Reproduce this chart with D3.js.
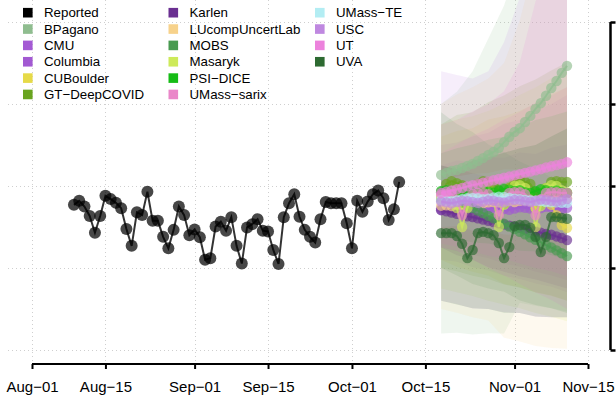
<!DOCTYPE html>
<meta charset="utf-8">

<!-- Load d3.js -->
<script src="https://d3js.org/d3.v7.min.js"></script>
<style>
  body { margin: 0; background: #fff; }
</style>

<div id="my_dataviz"></div>

<script>

// ---- data ----
var reportedStart = "2020-08-09";
var reported = [35.4, 36.4, 35.0, 32.7, 28.6, 32.7, 37.6, 36.8, 35.9, 34.6,
                29.5, 25.4, 33.6, 32.9, 38.6, 31.5, 31.5, 27.6, 24.8, 29.3,
                35.0, 32.9, 28.0, 29.4, 27.5, 22.0, 22.4, 30.1, 31.3, 29.1,
                32.4, 25.4, 21.1, 29.9, 30.7, 31.9, 29.1, 28.9, 24.4, 21.0,
                32.4, 35.8, 38.0, 32.5, 29.3, 27.6, 26.2, 31.9, 36.1, 35.8,
                35.8, 35.8, 30.9, 24.8, 36.4, 33.7, 36.2, 38.0, 38.9, 37.0,
                31.7, 34.3, 41.0];

var forecastStart = "2020-10-18";
var bandDays = [0, 3, 6, 9, 12, 15, 18, 21, 24];

var modelNames = ["BPagano", "CMU", "Columbia", "CUBoulder", "GT\u2212DeepCOVID",
                  "Karlen", "LUcompUncertLab", "MOBS", "Masaryk", "PSI\u2212DICE",
                  "UMass\u2212sarix", "UMass\u2212TE", "USC", "UT", "UVA"];
var modelColors = ["#8FBD8F", "#A45AD4", "#A259D2", "#E6DA48", "#69A41F",
                   "#6A2F91", "#F7D28B", "#489A50", "#CDEA5A", "#16BC16",
                   "#EA87C9", "#B3EDF3", "#BF88E0", "#EC82DC", "#2D6A31"];

// point forecasts (one per day)
var bpagano   = [42.7, 43.2, 43.7, 43.9, 44.4, 44.9, 45.4, 46.1, 46.8, 47.6, 48.3, 49.3, 50.7, 52.0, 53.2, 54.1, 55.6, 57.1, 58.8, 60.2, 62.0, 63.9, 65.6, 67.6, 69.3];
var cmu       = [34.6, 34.8, 34.9, 35.1, 35.3, 35.4, 35.6, 35.8, 35.9, 36.1, 36.2, 36.4, 36.6, 36.7, 36.9, 37.0, 37.2, 37.3, 37.5, 37.6, 37.8, 37.9, 38.0, 38.2, 38.3];
var columbia  = [34.2, 34.4, 34.1, 33.9, 34.3, 34.6, 34.5, 34.3, 34.1, 34.4, 34.7, 34.6, 34.4, 34.2, 34.5, 34.8, 34.7, 34.5, 34.3, 34.6, 34.9, 34.8, 34.6, 34.4, 34.7];
var cuboulder = [37.1, 37.8, 38.5, 37.8, 35.4, 36.6, 37.6, 38.5, 39.0, 39.5, 38.5, 36.6, 37.6, 39.5, 40.5, 40.7, 40.0, 37.8, 34.6, 36.6, 37.8, 35.4, 32.9, 30.5, 29.8];
var gtdeep    = [36.6, 40.5, 41.2, 40.7, 40.2, 35.4, 39.0, 40.5, 41.2, 41.0, 40.5, 39.0, 35.6, 39.5, 40.7, 41.5, 41.0, 40.5, 38.5, 35.4, 39.5, 41.0, 41.2, 41.0, 41.0];
var karlen    = [34.1, 33.8, 33.5, 33.2, 32.9, 32.6, 32.4, 32.1, 31.8, 31.5, 31.2, 30.9, 30.6, 30.3, 30.1, 29.8, 29.5, 29.2, 28.9, 28.6, 28.3, 28.1, 27.7, 27.3, 26.8];
var lucomp    = [35.2, 35.3, 35.1, 35.4, 35.6, 35.5, 35.7, 35.9, 35.8, 36.0, 36.1, 36.0, 36.2, 36.3, 36.1, 36.4, 36.5, 36.3, 36.6, 36.7, 36.5, 36.8, 36.9, 36.7, 37.0];
var mobs      = [38.5, 37.9, 37.2, 36.6, 35.9, 35.3, 34.6, 34.0, 33.4, 32.7, 32.1, 31.4, 30.8, 30.1, 29.5, 28.8, 28.2, 27.5, 26.9, 26.3, 25.6, 25.0, 24.3, 23.6, 22.9];
var masaryk   = [37.6, 37.8, 37.6, 34.6, 30.0, 34.6, 37.6, 38.5, 39.0, 38.5, 36.6, 30.0, 35.4, 39.0, 40.0, 40.2, 39.5, 37.1, 30.0, 35.1, 39.5, 40.2, 40.0, 39.0, 38.5];
var psidice   = [38.8, 39.0, 38.5, 38.3, 38.9, 39.3, 39.0, 38.8, 39.1, 38.6, 38.4, 38.9, 39.3, 39.1, 38.8, 39.0, 38.5, 38.3, 38.8, 39.2, 39.0, 38.7, 38.9, 38.5, 38.3];
var sarix     = [37.8, 38.0, 38.0, 36.6, 32.9, 36.6, 38.0, 38.3, 38.3, 38.0, 36.6, 32.9, 36.6, 38.3, 38.5, 38.5, 38.0, 36.6, 32.9, 36.6, 38.3, 38.5, 38.5, 38.3, 38.3];
var umasste   = [36.6, 36.4, 36.3, 36.5, 36.8, 37.0, 37.1, 37.0, 36.8, 36.9, 37.2, 37.4, 37.3, 37.1, 36.9, 36.8, 36.6, 36.5, 36.4, 36.3, 36.1, 36.0, 36.0, 35.9, 35.9];
var usc       = [36.2, 36.0, 35.8, 36.1, 36.4, 36.3, 36.1, 35.9, 36.2, 36.5, 36.4, 36.2, 36.0, 36.3, 36.6, 36.5, 36.3, 36.1, 36.4, 36.7, 36.6, 36.4, 36.2, 36.5, 36.8];
var ut        = [38.3, 38.6, 38.9, 39.2, 39.5, 39.9, 40.2, 40.5, 40.8, 41.1, 41.4, 41.7, 42.0, 42.3, 42.6, 42.9, 43.2, 43.5, 43.8, 44.1, 44.5, 44.8, 45.1, 45.4, 45.8];
var uva       = [28.5, 28.5, 28.5, 27.8, 25.9, 22.4, 24.4, 28.5, 28.8, 28.5, 28.0, 26.1, 22.4, 25.1, 30.2, 30.5, 30.5, 29.8, 27.6, 23.9, 27.6, 32.4, 32.4, 32.2, 32.0];

// prediction intervals (at bandDays)
var bpaganoLo   = [4.0, 4.2, 3.8, 4.1, 4.0, 11.5, 10.8, 10.2, 9.4];
var bpaganoHi   = [60, 63, 68, 76, 84, 96, 106, 116, 126];
var cmuLo       = [22, 21.5, 20.2, 19.4, 18.1, 17.3, 16.2, 15.4, 14.1];
var cmuHi       = [50, 50.6, 52.1, 53.0, 55.2, 56.1, 58.3, 60.0, 62.2];
var columbiaLo  = [25, 24.1, 23.2, 22.4, 21.0, 20.3, 19.1, 18.2, 17.0];
var columbiaHi  = [45, 46.2, 45.8, 47.1, 46.9, 48.2, 47.8, 49.3, 50.1];
var cuboulderLo = [22, 20.3, 19.1, 18.2, 16.1, 15.3, 14.0, 13.2, 12.0];
var cuboulderHi = [52, 53.4, 54.1, 56.2, 57.0, 58.3, 60.1, 62.4, 64.0];
var gtdeepLo    = [20, 19.2, 18.1, 17.3, 16.0, 15.2, 14.1, 13.3, 12.0];
var gtdeepHi    = [55, 57.3, 58.0, 60.4, 62.1, 64.3, 66.0, 68.2, 70.1];
var karlenLo    = [25, 23.1, 22.0, 20.2, 19.1, 18.0, 17.2, 16.1, 15.0];
var karlenHi    = [45, 44.2, 43.1, 42.3, 41.0, 40.2, 39.1, 38.3, 37.0];
var lucompLo    = [10, 9.1, 8.0, 7.2, 3.0, 2.1, 1.0, 0.5, 0.3];
var lucompHi    = [60, 62.3, 64.1, 66.2, 70.0, 80.4, 95.1, 110.2, 120.0];
var mobsLo      = [20, 18.2, 16.1, 15.0, 14.2, 12.1, 11.0, 10.2, 9.0];
var mobsHi      = [58, 55.1, 53.2, 50.1, 48.3, 46.0, 44.2, 42.1, 40.0];
var masarykLo   = [15, 14.1, 13.2, 12.0, 11.1, 10.2, 9.0, 8.1, 7.0];
var masarykHi   = [55, 56.2, 57.0, 58.3, 60.1, 62.2, 64.0, 66.3, 68.1];
var psidiceLo   = [28, 27.1, 26.2, 26.0, 25.1, 24.2, 24.0, 23.1, 22.0];
var psidiceHi   = [48, 49.2, 50.1, 51.3, 52.0, 54.2, 56.1, 57.0, 58.2];
var sarixLo     = [26, 25.2, 24.1, 23.0, 22.2, 21.1, 20.0, 19.2, 18.0];
var sarixHi     = [48, 50.1, 52.3, 54.0, 56.2, 58.1, 60.3, 62.0, 64.2];
var umassteLo   = [30, 30.2, 29.1, 29.0, 28.2, 28.0, 27.1, 27.0, 27.0];
var umassteHi   = [42, 42.3, 43.0, 43.2, 44.1, 44.0, 45.2, 45.1, 46.0];
var uscLo       = [12, 11.2, 10.1, 10.0, 9.2, 9.0, 8.1, 8.0, 8.0];
var uscHi       = [68, 67.1, 66.2, 68.0, 75.1, 86.0, 95.2, 100.1, 105.0];
var utLo        = [25, 24.2, 22.1, 20.0, 18.2, 16.1, 14.0, 12.2, 10.0];
var utHi        = [55, 56.1, 58.2, 60.0, 63.1, 70.2, 85.0, 95.1, 100.0];
var uvaLo       = [12, 11.1, 10.2, 10.0, 9.1, 9.0, 8.2, 8.0, 8.0];
var uvaHi       = [45, 44.1, 46.2, 47.0, 48.1, 49.2, 50.0, 52.1, 54.0];

var xTickDates = ["2020-08-01", "2020-08-15", "2020-09-01", "2020-09-15",
                  "2020-10-01", "2020-10-15", "2020-11-01", "2020-11-15"];
var yTicks = [0, 20, 40, 60, 80];

var modelLines = [bpagano, cmu, columbia, cuboulder, gtdeep, karlen, lucomp, mobs,
                  masaryk, psidice, sarix, umasste, usc, ut, uva];
var modelLo = [bpaganoLo, cmuLo, columbiaLo, cuboulderLo, gtdeepLo, karlenLo, lucompLo, mobsLo,
               masarykLo, psidiceLo, sarixLo, umassteLo, uscLo, utLo, uvaLo];
var modelHi = [bpaganoHi, cmuHi, columbiaHi, cuboulderHi, gtdeepHi, karlenHi, lucompHi, mobsHi,
               masarykHi, psidiceHi, sarixHi, umassteHi, uscHi, utHi, uvaHi];

// ---- layout ----
var width = 616, height = 397;

var svg = d3.select("#my_dataviz")
  .append("svg")
    .attr("width", width)
    .attr("height", height)
    .style("font-family", "Liberation Sans, Arial, sans-serif");

var parse = d3.utcParse("%Y-%m-%d");
var day = function(start, i) { return d3.utcDay.offset(parse(start), i); };

var x = d3.scaleUtc()
  .domain([parse("2020-08-01"), parse("2020-11-15")])
  .range([32, 588]);

var y = d3.scaleLinear()
  .domain([0, 80])
  .range([350, 22]);

// plot region clip
svg.append("clipPath").attr("id", "plotclip")
  .append("rect").attr("x", 8).attr("y", -200).attr("width", 603).attr("height", 562);

// grid
var grid = svg.append("g")
  .attr("stroke", "#CFCFCF")
  .attr("stroke-width", 1)
  .attr("stroke-dasharray", "1,3");
grid.selectAll("vline")
  .data(xTickDates)
  .enter()
  .append("line")
    .attr("x1", function(d) { return Math.round(x(parse(d))) + 0.5; })
    .attr("x2", function(d) { return Math.round(x(parse(d))) + 0.5; })
    .attr("y1", 0)
    .attr("y2", 361);
grid.selectAll("hline")
  .data(yTicks)
  .enter()
  .append("line")
    .attr("x1", 8)
    .attr("x2", 610)
    .attr("y1", function(d) { return Math.round(y(d)) + 0.5; })
    .attr("y2", function(d) { return Math.round(y(d)) + 0.5; });

var plot = svg.append("g").attr("clip-path", "url(#plotclip)");

// prediction bands
var area = d3.area()
  .x(function(d) { return x(d.date); })
  .y0(function(d) { return y(d.lo); })
  .y1(function(d) { return y(d.hi); });

modelNames.forEach(function(name, m) {
  var pts = bandDays.map(function(k, j) {
    return {date: day(forecastStart, k), lo: modelLo[m][j], hi: modelHi[m][j]};
  });
  plot.append("path")
    .datum(pts)
    .attr("d", area)
    .attr("fill", modelColors[m])
    .attr("fill-opacity", 0.14)
    .attr("stroke", "none");
});

// reported series
var line = d3.line()
  .x(function(d) { return x(d.date); })
  .y(function(d) { return y(d.value); });

var repData = reported.map(function(v, i) { return {date: day(reportedStart, i), value: v}; });

plot.append("path")
  .datum(repData)
  .attr("d", line)
  .attr("fill", "none")
  .attr("stroke", "#000")
  .attr("stroke-opacity", 0.8)
  .attr("stroke-width", 2);

plot.append("g")
  .selectAll("dot")
  .data(repData)
  .enter()
  .append("circle")
    .attr("cx", function(d) { return x(d.date); })
    .attr("cy", function(d) { return y(d.value); })
    .attr("r", 6)
    .style("fill", "#000")
    .style("opacity", 0.72);

// model forecasts
modelNames.forEach(function(name, m) {
  var pts = modelLines[m].map(function(v, i) { return {date: day(forecastStart, i), value: v}; });
  plot.append("path")
    .datum(pts)
    .attr("d", line)
    .attr("fill", "none")
    .attr("stroke", modelColors[m])
    .attr("stroke-opacity", 0.75)
    .attr("stroke-width", 2);
  plot.append("g")
    .selectAll("dot")
    .data(pts)
    .enter()
    .append("circle")
      .attr("cx", function(d) { return x(d.date); })
      .attr("cy", function(d) { return y(d.value); })
      .attr("r", 5.2)
      .style("fill", modelColors[m])
      .style("opacity", 0.65);
});

// X axis
var fmtMon = d3.utcFormat("%b"), fmtDay = d3.utcFormat("%d");
var xAxis = svg.append("g")
  .attr("transform", "translate(0,364)")
  .call(d3.axisBottom(x)
    .tickValues(xTickDates.map(parse))
    .tickSize(5)
    .tickSizeOuter(0)
    .tickPadding(12)
    .tickFormat(function(d) { return fmtMon(d) + "\u2212" + fmtDay(d); }));
xAxis.select(".domain").attr("stroke-width", 2).attr("stroke", "#000")
  .attr("d", "M" + x(parse(xTickDates[0])) + ",0H" + x(parse(xTickDates[xTickDates.length - 1])));
xAxis.selectAll(".tick line").attr("stroke-width", 2);
xAxis.selectAll("text").style("font-size", "15px").attr("fill", "#000");

// Y axis on the right; the picture is cropped just past the tick marks,
// so no tick labels are visible
var yAxis = svg.append("g")
  .attr("transform", "translate(610.5,0)")
  .call(d3.axisRight(y)
    .tickValues(yTicks)
    .tickSize(5)
    .tickSizeOuter(0)
    .tickFormat(""));
yAxis.select(".domain").attr("stroke-width", 2.5).attr("stroke", "#000")
  .attr("d", "M0," + y(0) + "V" + y(80));
yAxis.selectAll(".tick line").attr("stroke-width", 2.5);

// legend
var legendNames = ["Reported"].concat(modelNames);
var legendColors = ["#000"].concat(modelColors);
var colX = [23, 168.5, 315];
var legend = svg.append("g");
legendNames.forEach(function(name, i) {
  var c = Math.floor(i / 6), r = i % 6;
  var cy = 12.7 + r * 16.35;
  legend.append("rect")
    .attr("x", colX[c])
    .attr("y", cy - 4.8)
    .attr("width", 9.6)
    .attr("height", 9.6)
    .attr("fill", legendColors[i]);
  legend.append("text")
    .attr("x", colX[c] + 21)
    .attr("y", cy + 4.7)
    .style("font-size", "13.3px")
    .attr("fill", "#000")
    .text(name);
});

</script>
